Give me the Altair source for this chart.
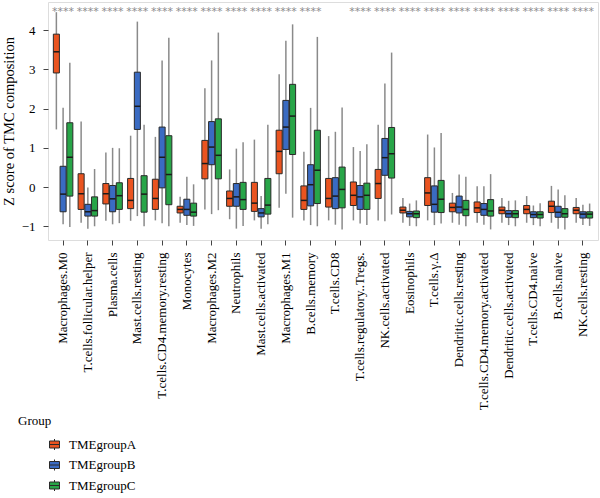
import altair as alt
import pandas as pd

cats = ["Macrophages.M0", "T.cells.follicular.helper", "Plasma.cells", "Mast.cells.resting",
        "T.cells.CD4.memory.resting", "Monocytes", "Macrophages.M2", "Neutrophils",
        "Mast.cells.activated", "Macrophages.M1", "B.cells.memory", "T.cells.CD8",
        "T.cells.regulatory..Tregs.", "NK.cells.activated", "Eosinophils", "T.cells.γ.Δ",
        "Dendritic.cells.resting", "T.cells.CD4.memory.activated", "Dendritic.cells.activated",
        "T.cells.CD4.naive", "B.cells.naive", "NK.cells.resting"]
groups = ["TMEgroupA", "TMEgroupB", "TMEgroupC"]
colors = ["#EA5420", "#3A6BC2", "#28A548"]
stars = ["****"] * 11 + [""] + ["****"] * 10

# per group: lower whisker, Q1, median, Q3, upper whisker
A_low = [1.47, -0.91, -0.86, -0.86, -0.85, -0.91, -0.57, -0.82, -0.85, -0.53, -0.85, -0.85, -0.85, -0.85, -0.91, -0.85, -0.91, -0.91, -0.91, -0.91, -0.91, -0.91]
A_q1 = [2.91, -0.57, -0.43, -0.55, -0.57, -0.66, 0.21, -0.49, -0.62, 0.34, -0.57, -0.51, -0.47, -0.29, -0.66, -0.47, -0.63, -0.65, -0.68, -0.68, -0.65, -0.68]
A_med = [3.45, -0.17, -0.17, -0.34, -0.29, -0.57, 0.60, -0.29, -0.41, 0.91, -0.34, -0.29, -0.21, 0.09, -0.59, -0.15, -0.52, -0.53, -0.59, -0.57, -0.49, -0.59]
A_q3 = [3.90, 0.34, 0.09, 0.22, 0.20, -0.49, 1.19, -0.10, 0.12, 1.45, 0.03, 0.22, 0.13, 0.45, -0.51, 0.24, -0.41, -0.38, -0.51, -0.47, -0.36, -0.52]
A_high = [4.46, 1.67, 0.88, 1.31, 1.28, -0.25, 2.52, 0.45, 1.21, 2.88, 0.90, 1.30, 1.02, 1.59, -0.28, 1.34, -0.15, 0.02, -0.28, -0.23, 0.03, -0.28]

B_low = [-0.95, -1.06, -0.95, -0.74, -0.92, -0.97, -0.69, -1.06, -1.06, -0.17, -0.97, -0.96, -0.93, -0.87, -0.99, -0.97, -0.96, -0.96, -0.97, -0.97, -1.06, -0.97]
B_q1 = [-0.63, -0.74, -0.63, 1.47, -0.02, -0.72, 0.57, -0.49, -0.76, 0.96, -0.48, -0.55, -0.57, 0.30, -0.76, -0.64, -0.66, -0.72, -0.77, -0.78, -0.77, -0.79]
B_med = [-0.18, -0.63, -0.30, 2.06, 0.76, -0.57, 1.02, -0.25, -0.66, 1.53, 0.06, -0.23, -0.25, 0.75, -0.68, -0.44, -0.51, -0.57, -0.68, -0.70, -0.64, -0.69]
B_q3 = [0.53, -0.44, 0.04, 2.93, 1.53, -0.31, 1.67, 0.09, -0.55, 2.21, 0.57, 0.24, 0.04, 1.24, -0.62, 0.03, -0.23, -0.42, -0.60, -0.63, -0.49, -0.63]
B_high = [2.02, -0.01, 1.00, 4.22, 3.23, 0.26, 3.23, 0.98, -0.23, 3.73, 2.02, 1.41, 0.92, 2.64, -0.42, 1.01, 0.32, 0.02, -0.35, -0.47, -0.06, -0.45]

C_low = [-1.02, -1.00, -0.92, -1.00, -1.00, -0.99, -0.59, -0.99, -0.95, -0.78, -1.00, -1.08, -0.97, -0.70, -1.00, -0.93, -1.00, -1.08, -1.00, -1.00, -1.08, -0.99]
C_q1 = [-0.23, -0.74, -0.57, -0.64, -0.45, -0.74, 0.21, -0.57, -0.69, 0.83, -0.42, -0.53, -0.57, 0.23, -0.78, -0.65, -0.73, -0.74, -0.78, -0.79, -0.77, -0.79]
C_med = [0.76, -0.60, -0.22, -0.18, 0.32, -0.64, 0.81, -0.32, -0.46, 1.81, 0.43, -0.06, -0.21, 0.85, -0.68, -0.31, -0.57, -0.61, -0.68, -0.70, -0.68, -0.69]
C_q3 = [1.64, -0.25, 0.11, 0.29, 1.31, -0.41, 1.74, 0.12, 0.22, 2.62, 1.45, 0.51, 0.10, 1.52, -0.61, 0.17, -0.34, -0.32, -0.60, -0.63, -0.55, -0.63]
C_high = [3.17, 0.46, 0.99, 1.59, 3.81, 0.07, 3.94, 1.14, 1.59, 4.15, 3.83, 2.03, 1.09, 3.43, -0.34, 1.38, 0.26, 0.33, -0.34, -0.41, -0.21, -0.42]

stats = {
    "TMEgroupA": (A_low, A_q1, A_med, A_q3, A_high),
    "TMEgroupB": (B_low, B_q1, B_med, B_q3, B_high),
    "TMEgroupC": (C_low, C_q1, C_med, C_q3, C_high),
}
rows = []
for g in groups:
    lo, q1, md, q3, hi = stats[g]
    for i, c in enumerate(cats):
        rows.append(dict(cell=c, group=g, low=lo[i], q1=q1[i], med=md[i], q3=q3[i], high=hi[i]))
df = pd.DataFrame(rows)
star_df = pd.DataFrame({"cell": cats, "stars": stars, "ypos": [4.56] * len(cats)})

FONT = "Liberation Serif"

x_enc = alt.X("cell:N", sort=cats, title=None,
              scale=alt.Scale(paddingInner=0, paddingOuter=0.11),
              axis=alt.Axis(labelAngle=-90, labelFont=FONT, labelFontSize=13, labelColor="black",
                            labelPadding=7, tickSize=5, tickColor="#444", domain=False,
                            labelAlign="right", labelBaseline="middle"))
xo = alt.XOffset("group:N", sort=groups,
                 scale=alt.Scale(paddingInner=0.1, paddingOuter=0.39))
y_scale = alt.Scale(domain=[-1.35, 4.72], nice=False, zero=False)
y_axis = alt.Axis(values=[-1, 0, 1, 2, 3, 4], labelFont=FONT, labelFontSize=13, labelColor="black",
                  tickSize=5, tickColor="#444", domain=False, grid=False, labelPadding=8,
                  title="Z score of TMC composition", titleFont=FONT, titleFontSize=14.5,
                  titleFontWeight="normal", titleColor="black", titlePadding=5)

base = alt.Chart(df)

whisk = base.mark_rule(color="#8a8a8a", strokeWidth=1.5).encode(
    x=x_enc, xOffset=xo,
    y=alt.Y("low:Q", scale=y_scale, axis=y_axis), y2="high:Q")

box_sym = "M-1,-0.7H1V0.7H-1Z M0,-0.7V-1.1 M0,0.7V1.1 M-1,0H1"
boxes = base.mark_bar(stroke="#2a2a2a", strokeWidth=1).encode(
    x=x_enc, xOffset=xo,
    y=alt.Y("q1:Q", scale=y_scale), y2="q3:Q",
    fill=alt.Fill("group:N", sort=groups, scale=alt.Scale(domain=groups, range=colors),
                  legend=alt.Legend(title="Group", orient="none", legendX=-30, legendY=413,
                                    titleFont=FONT, titleFontSize=13, titleFontWeight="normal",
                                    titleColor="black", titlePadding=10,
                                    labelFont=FONT, labelFontSize=13, labelColor="black",
                                    symbolType=box_sym, symbolSize=100, symbolStrokeColor="#2a2a2a",
                                    symbolStrokeWidth=1, symbolOffset=30, labelOffset=8,
                                    rowPadding=5.5)))

meds = base.mark_tick(orient="horizontal", size=6, thickness=1.5, color="#1a1a1a", opacity=1).encode(
    x=x_enc, xOffset=xo, y=alt.Y("med:Q", scale=y_scale))

star_layer = alt.Chart(star_df).mark_text(font="DejaVu Sans", fontSize=11, color="#8c8c8c",
                                          baseline="middle", dy=4).encode(
    x=alt.X("cell:N", sort=cats), y=alt.Y("ypos:Q", scale=y_scale), text="stars:N")

chart = alt.layer(whisk, boxes, meds, star_layer).properties(
    width=550, height=238,
    autosize=alt.AutoSizeParams(type="none"),
    padding={"left": 48, "top": 2, "right": 2, "bottom": 258},
).configure_view(stroke="#555", strokeWidth=1).configure(background="white")

chart.save("out.html", embed_options={"renderer": "svg", "actions": False})
